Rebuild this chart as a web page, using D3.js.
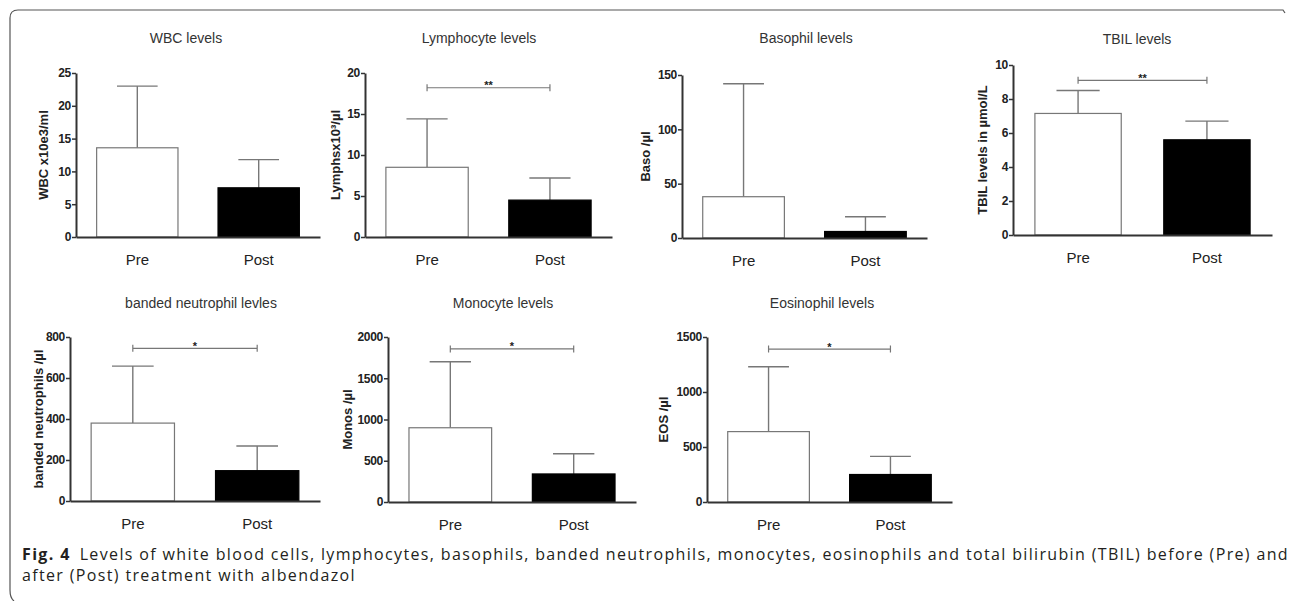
<!DOCTYPE html>
<html>
<head>
<meta charset="utf-8">
<script src="https://cdn.jsdelivr.net/npm/d3@7/dist/d3.min.js"></script>
<style>
  body { margin: 0; background: #fff; }
  svg text { font-family: "Liberation Sans", Arial, sans-serif; }
  svg text.caption { font-family: "Open Sans", sans-serif; }
</style>
</head>
<body>
<svg id="fig" width="1290" height="601"></svg>
<script>
// data
const groups = ["Pre", "Post"];
const titles = ["WBC levels", "Lymphocyte levels", "Basophil levels", "TBIL levels",
                "banded neutrophil levles", "Monocyte levels", "Eosinophil levels"];
const yLabels = ["WBC x10e3/ml", "Lymphsx10\u00b3/\u00b5l", "Baso /\u00b5l", "TBIL levels in \u00b5mol/L",
                 "banded neutrophils /\u00b5l", "Monos /\u00b5l", "EOS /\u00b5l"];
const yMax = [25, 20, 150, 10, 800, 2000, 1500];
const yStep = [5, 5, 50, 2, 200, 500, 500];
const means = [[13.6, 7.5], [8.5, 4.5], [38, 6], [7.15, 5.6], [380, 148], [900, 340], [640, 250]];
const upper = [[23.0, 11.8], [14.4, 7.2], [142, 19.5], [8.5, 6.7], [658, 268], [1700, 585], [1230, 415]];
const sigLevel = [null, 18.2, null, 9.1, 745, 1855, 1390];
const sigStars = ["", "**", "", "**", "*", "*", "*"];
const captionLabel = "Fig. 4";
const captionLine1 = "Levels of white blood cells, lymphocytes, basophils, banded neutrophils, monocytes, eosinophils and total bilirubin (TBIL) before (Pre) and";
const captionLine2 = "after (Post) treatment with albendazol";

// where each panel sits on the page
const layout = [
  {x0: 76,   x1: 320,  top: 73, bottom: 237, labelX: 43,  titleX: 186,  titleY: 43},
  {x0: 365,  x1: 612,  top: 73, bottom: 237, labelX: 335, titleX: 479,  titleY: 43},
  {x0: 682,  x1: 927,  top: 75, bottom: 238, labelX: 645, titleX: 806,  titleY: 43},
  {x0: 1013, x1: 1272, top: 65, bottom: 235, labelX: 982, titleX: 1137, titleY: 44},
  {x0: 70,   x1: 320,  top: 337, bottom: 501, labelX: 38,  titleX: 201, titleY: 308},
  {x0: 388,  x1: 636,  top: 337, bottom: 502, labelX: 347, titleX: 503, titleY: 308},
  {x0: 707,  x1: 952,  top: 337, bottom: 502, labelX: 663, titleX: 822, titleY: 308}
];

const svg = d3.select("#fig");

// frame round the figure
svg.append("path")
  .attr("d", "M14,601 Q10,598 10,590 L10,18 Q10,10 18,10 L1283,10 L1285,13")
  .attr("fill", "none")
  .attr("stroke", "#555")
  .attr("stroke-width", 1.2);

layout.forEach(function(p, i) {
  const g = svg.append("g");

  const x = d3.scaleBand()
    .domain(groups)
    .range([p.x0, p.x1])
    .paddingInner(0.33)
    .paddingOuter(0.17);

  const y = d3.scaleLinear()
    .domain([0, yMax[i]])
    .range([p.bottom, p.top]);

  const rows = groups.map((k, j) => ({key: k, mean: means[i][j], up: upper[i][j]}));

  // error bars (upper only), drawn before the bars
  g.selectAll(".err")
    .data(rows)
    .enter().append("line")
    .attr("x1", d => x(d.key) + x.bandwidth() / 2)
    .attr("x2", d => x(d.key) + x.bandwidth() / 2)
    .attr("y1", d => y(d.mean))
    .attr("y2", d => y(d.up))
    .attr("stroke", "#777")
    .attr("stroke-width", 1.4);

  g.selectAll(".cap")
    .data(rows)
    .enter().append("line")
    .attr("x1", d => x(d.key) + x.bandwidth() / 4)
    .attr("x2", d => x(d.key) + x.bandwidth() * 3 / 4)
    .attr("y1", d => y(d.up))
    .attr("y2", d => y(d.up))
    .attr("stroke", "#777")
    .attr("stroke-width", 1.4);

  g.selectAll(".bar")
    .data(rows)
    .enter().append("rect")
    .attr("x", d => x(d.key))
    .attr("y", d => y(d.mean))
    .attr("width", x.bandwidth())
    .attr("height", d => p.bottom - y(d.mean))
    .attr("fill", (d, j) => j === 0 ? "#fff" : "#000")
    .attr("stroke", (d, j) => j === 0 ? "#777" : "#000")
    .attr("stroke-width", 1.2);

  // y axis
  const yAxis = d3.axisLeft(y)
    .tickValues(d3.range(0, yMax[i] + yStep[i] / 2, yStep[i]))
    .tickFormat(d3.format("d"))
    .tickSize(4)
    .tickSizeOuter(0)
    .tickPadding(1);

  const ya = g.append("g")
    .attr("transform", `translate(${p.x0},0)`)
    .call(yAxis);
  ya.select(".domain").attr("stroke", "#333").attr("stroke-width", 2);
  ya.selectAll(".tick line").attr("stroke", "#333").attr("stroke-width", 1.5);
  ya.selectAll(".tick text")
    .attr("fill", "#222")
    .style("font-size", "12px")
    .style("font-weight", "bold")
    .style("letter-spacing", "-0.3px");

  // x axis
  const xAxis = d3.axisBottom(x).tickSize(0).tickSizeOuter(0).tickPadding(17);
  const xa = g.append("g")
    .attr("transform", `translate(0,${p.bottom})`)
    .call(xAxis);
  xa.select(".domain").attr("stroke", "#333").attr("stroke-width", 2);
  xa.selectAll(".tick text")
    .attr("fill", "#222")
    .style("font-size", "15px");

  // significance bracket
  if (sigLevel[i] !== null) {
    const by = y(sigLevel[i]);
    const bx1 = x(groups[0]) + x.bandwidth() / 2;
    const bx2 = x(groups[1]) + x.bandwidth() / 2;
    g.append("path")
      .attr("d", `M${bx1},${by - 3.5}V${by + 3.5}M${bx1},${by}H${bx2}M${bx2},${by - 3.5}V${by + 3.5}`)
      .attr("fill", "none")
      .attr("stroke", "#777")
      .attr("stroke-width", 1.2);
    g.append("text")
      .attr("x", (bx1 + bx2) / 2)
      .attr("y", by + 1.5)
      .attr("text-anchor", "middle")
      .attr("fill", "#222")
      .style("font-size", "11px")
      .style("font-weight", "bold")
      .text(sigStars[i]);
  }

  // title
  g.append("text")
    .attr("x", p.titleX)
    .attr("y", p.titleY)
    .attr("text-anchor", "middle")
    .attr("fill", "#333")
    .style("font-size", "14px")
    .text(titles[i]);

  // y label
  g.append("text")
    .attr("transform", `translate(${p.labelX},${(p.top + p.bottom) / 2}) rotate(-90)`)
    .attr("text-anchor", "middle")
    .attr("dy", "0.35em")
    .attr("fill", "#222")
    .style("font-size", "13px")
    .style("font-weight", "bold")
    .text(yLabels[i]);
});

// caption
const capSize = 16;
const c1 = svg.append("text")
  .attr("class", "caption")
  .attr("x", 22).attr("y", 559.5)
  .attr("fill", "#231f20")
  .style("font-size", capSize + "px");
c1.append("tspan").style("font-weight", "bold").text(captionLabel);
c1.append("tspan").attr("dx", 9).text(captionLine1);

const c2 = svg.append("text")
  .attr("class", "caption")
  .attr("x", 22).attr("y", 581)
  .attr("fill", "#231f20")
  .style("font-size", capSize + "px")
  .text(captionLine2);

// spread line 1 over the width it has in the figure
const w1 = c1.node().getComputedTextLength();
const nChars = captionLabel.length + captionLine1.length;
const ls = Math.max(0, (1258 - w1) / nChars);
c1.style("letter-spacing", ls + "px");
c2.style("letter-spacing", ls + "px");
</script>
</body>
</html>
